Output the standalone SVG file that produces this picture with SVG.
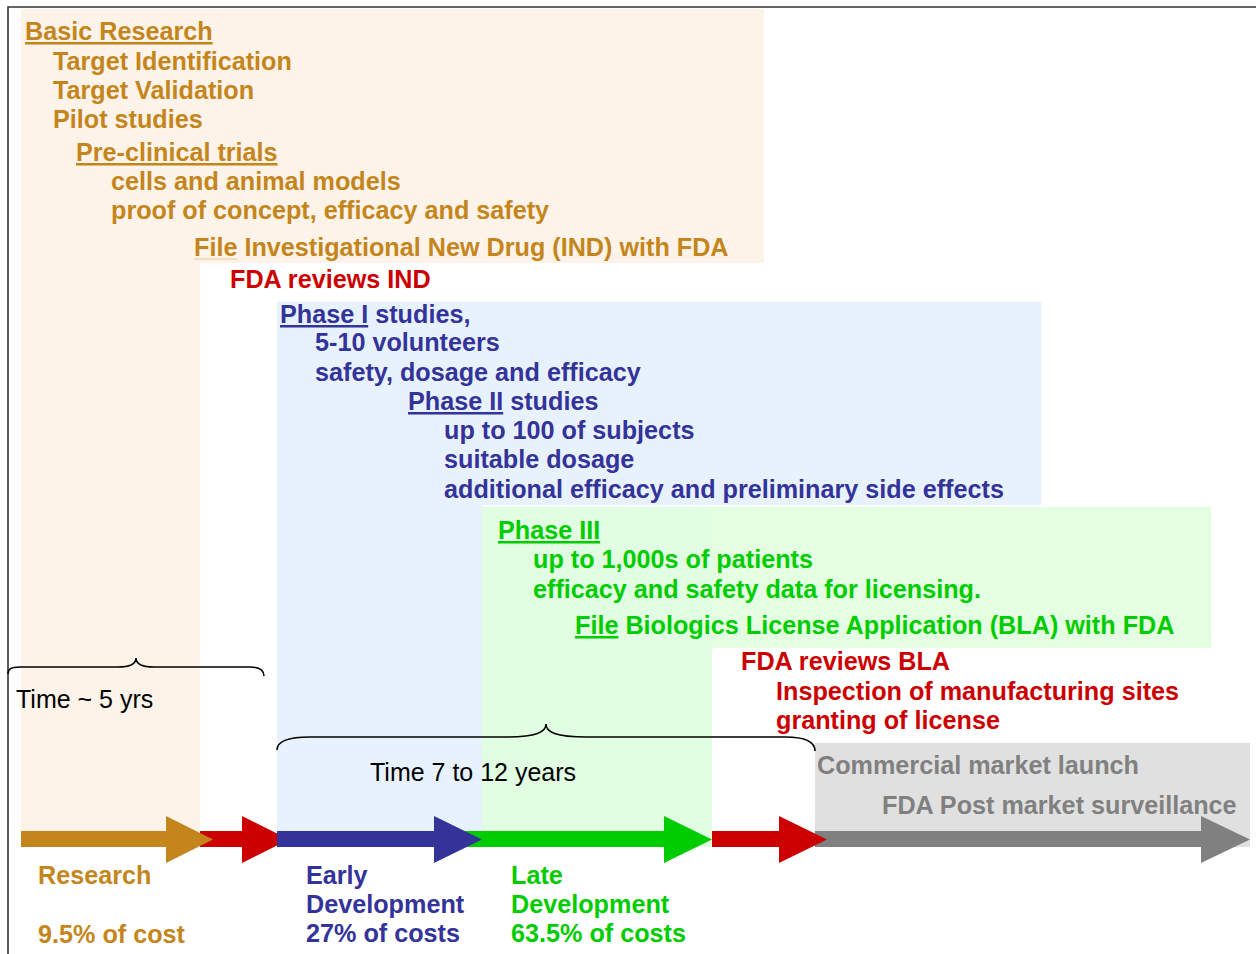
<svg xmlns="http://www.w3.org/2000/svg" width="1256" height="954" viewBox="0 0 1256 954">
<style>
text{font-family:"Liberation Sans",Arial,sans-serif;font-size:25.2px;font-weight:bold}
.br{fill:#C4861C}.rd{fill:#CC0000}.bl{fill:#333399}.gr{fill:#00CC00}.gy{fill:#808080}
.reg{font-weight:normal;fill:#000;font-size:25px}
.u{text-decoration:underline}
.brace{fill:none;stroke:#000;stroke-width:1.6}
</style>
<rect width="1256" height="954" fill="#fff"/>
<g id="frame"><path d="M8,954 V7 H1256" fill="none" stroke="#333" stroke-width="1.6"/></g>
<g id="backgrounds">
<path id="bg-research" d="M21,9 H764 V263 H200 V847 H21 Z" fill="#FEF3E8"/>
<path id="bg-early" d="M277,302 H1041 V505 H482 V847 H277 Z" fill="#E8F2FE"/>
<rect id="bg-late-a" x="482" y="507" width="230" height="340" fill="#E2FEE2"/>
<rect id="bg-late-b" x="712" y="507" width="499" height="141" fill="#E3FEE1"/>
<rect id="bg-market" x="815" y="743" width="435" height="104" fill="#E0E0E0"/>
</g>
<g id="research">
<text x="25" y="40" class="br u">Basic Research</text>
<text x="53" y="70" class="br">Target Identification</text>
<text x="53" y="99" class="br">Target Validation</text>
<text x="53" y="128" class="br">Pilot studies</text>
<text x="76" y="161" class="br u">Pre-clinical trials</text>
<text x="111" y="190" class="br">cells and animal models</text>
<text x="111" y="219" class="br">proof of concept, efficacy and safety</text>
<text x="194" y="256" class="br">File Investigational New Drug (IND) with FDA</text>
<line x1="194" y1="259" x2="237" y2="259" stroke="#F0DDC2" stroke-width="2"/>
</g>
<g id="fda-ind"><text x="230" y="288" class="rd">FDA reviews IND</text></g>
<g id="phase1">
<text x="280" y="323" class="bl"><tspan class="u">Phase I</tspan> studies,</text>
<text x="315" y="351" class="bl">5-10 volunteers</text>
<text x="315" y="381" class="bl">safety, dosage and efficacy</text>
</g>
<g id="phase2">
<text x="408" y="410" class="bl"><tspan class="u">Phase II</tspan> studies</text>
<text x="444" y="439" class="bl">up to 100 of subjects</text>
<text x="444" y="468" class="bl">suitable dosage</text>
<text x="444" y="498" class="bl">additional efficacy and preliminary side effects</text>
</g>
<g id="phase3">
<text x="498" y="539" class="gr u">Phase III</text>
<text x="533" y="568" class="gr">up to 1,000s of patients</text>
<text x="533" y="598" class="gr">efficacy and safety data for licensing.</text>
<text x="575" y="634" class="gr"><tspan class="u">File</tspan> Biologics License Application (BLA) with FDA</text>
</g>
<g id="fda-bla">
<text x="741" y="670" class="rd">FDA reviews BLA</text>
<text x="776" y="700" class="rd">Inspection of manufacturing sites</text>
<text x="776" y="729" class="rd">granting of license</text>
</g>
<g id="market">
<text x="817" y="774" class="gy">Commercial market launch</text>
<text x="882" y="814" class="gy">FDA Post market surveillance</text>
</g>
<g id="braces">
<path class="brace" d="M8,674 C8,669 11,667 20,667 L118,667 C131,667 136,664 136,658 C136,664 141,667 154,667 L250,667 C259,667 264,670 264,676"/>
<text x="16" y="708" class="reg">Time ~ 5 yrs</text>
<path class="brace" d="M277,750 C277,741 288,737 310,737 L505,737 C537,737 546,732 546,724 C546,732 555,737 587,737 L785,737 C806,737 815,742 815,751"/>
<text x="370" y="781" class="reg">Time 7 to 12 years</text>
</g>
<g id="connectors">
<polygon points="200,831 242,831 242,816 289,839.5 242,863 242,847 200,847" fill="#CC0000"/>
<polygon points="21,831 166,831 166,816 213,839.5 166,863 166,847 21,847" fill="#C4861C"/>
<polygon points="465,831 664,831 664,816 712,839.5 664,863 664,847 465,847" fill="#00CC00"/>
<polygon points="277,831 434,831 434,816 482,839.5 434,863 434,847 277,847" fill="#333399"/>
<polygon points="815,831 1201,831 1201,816 1250,839.5 1201,863 1201,847 815,847" fill="#808080"/>
<polygon points="712,831 779,831 779,816 827,839.5 779,863 779,847 712,847" fill="#CC0000"/>
</g>
<g id="labels">
<text x="38" y="884" class="br">Research</text>
<text x="38" y="943" class="br">9.5% of cost</text>
<text x="306" y="884" class="bl">Early</text>
<text x="306" y="913" class="bl">Development</text>
<text x="306" y="942" class="bl">27% of costs</text>
<text x="511" y="884" class="gr">Late</text>
<text x="511" y="913" class="gr">Development</text>
<text x="511" y="942" class="gr">63.5% of costs</text>
</g>
</svg>
